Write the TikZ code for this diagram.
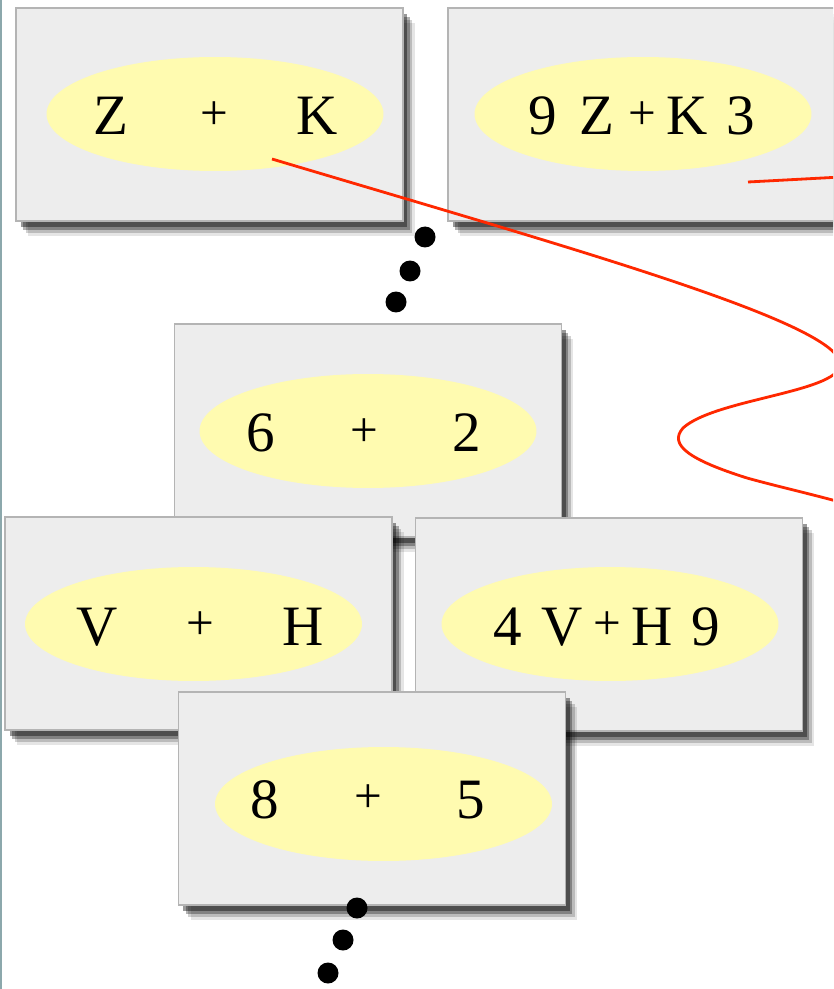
\documentclass[tikz,border=0pt]{standalone}
\usepackage{fontspec}
\setmainfont{Liberation Serif}
\usetikzlibrary{shadows,shapes.geometric,positioning}

\definecolor{cardgray}{RGB}{237,237,237}
\definecolor{cardline}{RGB}{180,180,180}
\definecolor{padyellow}{RGB}{255,251,176}
\definecolor{thread}{RGB}{255,40,0}
\definecolor{marginline}{RGB}{140,168,172}

\newcommand{\plus}{\raisebox{3pt}{\fontsize{28}{28}\selectfont +}}
\newcommand{\pair}[2]{\makebox[2.06cm]{#1}\makebox[2.06cm]{\plus}\makebox[2.06cm]{#2}}
\newcommand{\spread}[4]{\makebox[1.16cm]{#1}\makebox[1cm]{#2}\makebox[0.8cm]{\plus}\makebox[1cm]{#3}\makebox[1.16cm]{#4}}

\tikzset{
  card/.style={draw=cardline, line width=1pt, fill=cardgray,
    minimum width=7.74cm, minimum height=4.26cm, inner sep=0pt,
    drop shadow={shadow xshift=0.24cm, shadow yshift=-0.3cm, fill=black, opacity=0.1},
    drop shadow={shadow xshift=0.19cm, shadow yshift=-0.24cm, fill=black, opacity=0.18},
    drop shadow={shadow xshift=0.14cm, shadow yshift=-0.18cm, fill=black, opacity=0.3},
    drop shadow={shadow xshift=0.09cm, shadow yshift=-0.12cm, fill=black, opacity=0.4}},
  blob/.style={ellipse, fill=padyellow, minimum width=6.74cm, minimum height=2.28cm, inner sep=0pt},
  sum/.style={font=\fontsize{32.5}{36}\selectfont, text height=0.76cm, text depth=0pt, inner sep=0pt},
  dot/.style={circle, fill=black, minimum size=0.42cm, inner sep=0pt},
}

\begin{document}
\begin{tikzpicture}[x=0.02cm, y=-0.02cm]
  \useasboundingbox (0,0) rectangle (833,989);
  \clip (0,0) rectangle (833,989);
  \fill[white] (0,0) rectangle (833,989);
  \draw[marginline, line width=0.04cm] (1,0) -- (1,989);

  % top row
  \node[card] (zk) at (209.5,114.5) {};
  \node[blob] (zkpad) at (215,114) {};
  \node[sum] (zksum) at (214,116) {\pair{Z}{K}};
  \node[card] (zkw) at (641.5,114.5) {};
  \node[blob] (zkwpad) at (643,114) {};
  \node[sum] (zkwsum) at (642,116) {\spread{9}{Z}{K}{3}};

  \node[dot] (d1) at (425,237) {};
  \node[dot] (d2) at (410,271) {};
  \node[dot] (d3) at (396,302) {};

  % middle stack
  \node[card] (sixtwo) at (368,430.5) {};
  \node[blob] (sixtwopad) at (368,431) {};
  \node[sum] (sixtwosum) at (364,433) {\pair{6}{2}};
  \node[card] (vh) at (198.5,623.5) {};
  \node[blob] (vhpad) at (193.5,624) {};
  \node[sum] (vhsum) at (200,626) {\pair{V}{H}};
  \node[card] (vhw) at (609,624.5) {};
  \node[blob] (vhwpad) at (610,624) {};
  \node[sum] (vhwsum) at (607,626) {\spread{4}{V}{H}{9}};
  \node[card] (eightfive) at (372,798.5) {};
  \node[blob] (eightfivepad) at (383.5,804) {};
  \node[sum] (eightfivesum) at (368,799) {\pair{8}{5}};

  \node[dot] (d4) at (357,908) {};
  \node[dot] (d5) at (343,940) {};
  \node[dot] (d6) at (328,973) {};

  % threads
  \draw[thread, line width=1.6pt] (272,159) .. controls (560,245) and (830,320) .. (840,362)
    .. controls (846,392) and (716,398) .. (683,428)
    .. controls (668,445) and (690,460) .. (747,478)
    .. controls (790,490) and (840,500) .. (900,520);
  \draw[thread, line width=1.6pt] (748,182) -- (860,176);
\end{tikzpicture}
\end{document}
